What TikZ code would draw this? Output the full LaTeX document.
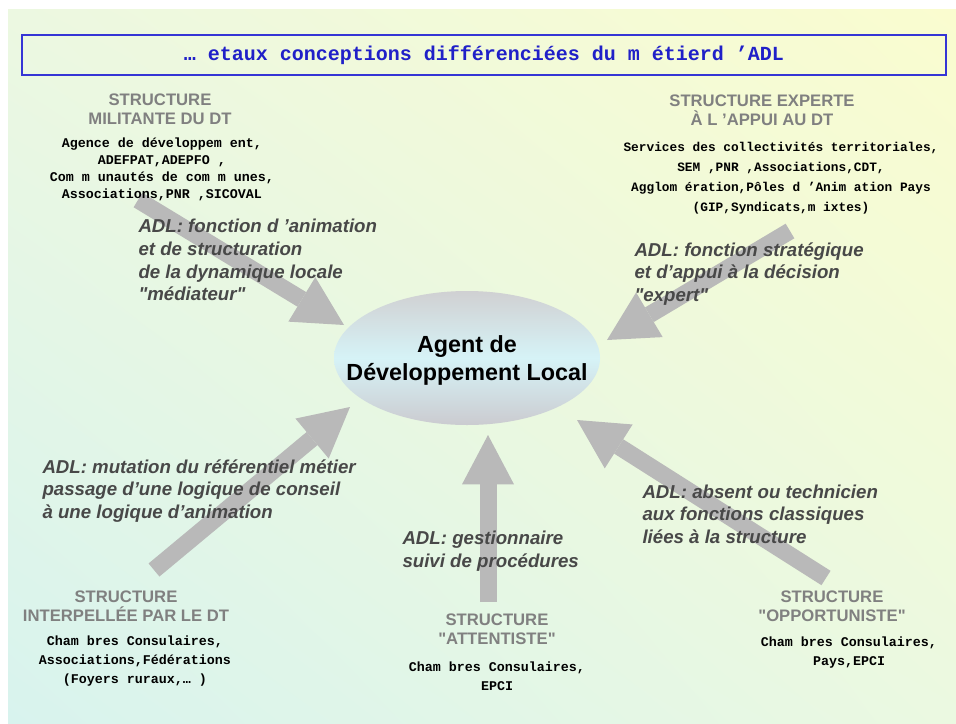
\documentclass[tikz,border=0pt]{standalone}
\usepackage{fontspec}
\setmainfont{Liberation Sans}[Ligatures=TeXOff]
\newfontfamily\courfont{Liberation Mono}
\usetikzlibrary{shapes.geometric,arrows.meta,shadings}

\definecolor{bgtl}{HTML}{ECF8E1}
\definecolor{bgtr}{HTML}{FAFCCF}
\definecolor{bgbl}{HTML}{D8F3EE}
\definecolor{bgbr}{HTML}{EBF9E1}
\definecolor{titleblue}{HTML}{2020C8}
\definecolor{boxblue}{HTML}{3535D5}
\definecolor{headgray}{HTML}{808080}
\definecolor{adlgray}{HTML}{484848}
\definecolor{arrowgray}{HTML}{B9B9B9}
\definecolor{ellgray}{HTML}{D0D0D2}
\definecolor{ellgrayb}{HTML}{CBCBD0}
\definecolor{ellcyan}{HTML}{D6F3F7}

\tikzset{every picture/.style={line width=0.75pt}}
\tikzset{
  heading/.style={text=headgray, font=\bfseries\fontsize{12.5}{14.5}\selectfont, align=center, inner sep=0pt},
  members/.style={font=\courfont\bfseries\fontsize{10}{14}\selectfont, align=center, inner sep=0pt},
  role/.style={text=adlgray, font=\bfseries\itshape\fontsize{14}{17}\selectfont, align=left, anchor=west, inner sep=0pt},
  push/.style={draw=arrowgray, line width=12.75pt, -{Triangle[length=37pt,width=39pt,line width=0pt]}},
}

\begin{document}
\begin{tikzpicture}[x=0.75pt,y=0.75pt,yscale=-1]
\useasboundingbox (0,0) rectangle (956,724);

%Shape: Background
\shade[upper left=bgtl, upper right=bgtr, lower left=bgbl, lower right=bgbr] (8,10) rectangle (956,724);

%Shape: Title box
\node[draw=boxblue, line width=1.5pt, minimum width=693pt, minimum height=30pt, inner sep=0pt,
  text=titleblue, font=\courfont\bfseries\fontsize{15}{18}\selectfont] (title) at (484,55)
  {… etaux conceptions différenciées du m étierd ’ADL};

% Arrow ends
\coordinate (milTail) at (138,200);
\coordinate (milTip) at (344,325);
\coordinate (expTail) at (790,231);
\coordinate (expTip) at (607,340);
\coordinate (intTail) at (154,570);
\coordinate (intTip) at (350,407);
\coordinate (attTail) at (488,602);
\coordinate (attTip) at (488,435);
\coordinate (oppTail) at (826,578);
\coordinate (oppTip) at (577,420);

%Shape: Arrows
\draw[push] (milTail) -- (milTip);
\draw[push] (expTail) -- (expTip);
\draw[push] (intTail) -- (intTip);
\draw[push] (attTail) -- (attTip);
\draw[push] (oppTail) -- (oppTip);

%Shape: Ellipse
\node[ellipse, minimum width=199.5pt, minimum height=100.5pt, inner sep=0pt,
  top color=ellgray, bottom color=ellgrayb, middle color=ellcyan] (adl) at (467,358) {};
% Text Node
\node[font=\bfseries\fontsize{17.5}{21}\selectfont, align=center, inner sep=0pt] (adltext) at (467,360)
  {Agent de\\Développement Local};

% Text Node
\node[heading] (milHead) at (160,109.5) {STRUCTURE\\MILITANTE DU DT};
% Text Node
\node[members, font=\courfont\bfseries\fontsize{10}{12.75}\selectfont] (milList) at (162,169.5)
  {Agence de développem ent,\\ADEFPAT,ADEPFO ,\\Com m unautés de com m unes,\\Associations,PNR ,SICOVAL};

% Text Node
\node[heading] (expHead) at (762,110) {STRUCTURE EXPERTE\\À L ’APPUI AU DT};
% Text Node
\node[members, font=\courfont\bfseries\fontsize{9.6}{15}\selectfont] (expList) at (781,178)
  {Services des collectivités territoriales,\\SEM ,PNR ,Associations,CDT,\\Agglom ération,Pôles d ’Anim ation Pays\\(GIP,Syndicats,m ixtes)};

% Text Node
\node[role] (milRole) at (138,260)
  {ADL: fonction d ’animation\\et de structuration\\de la dynamique locale\\"médiateur"};
% Text Node
\node[role] (expRole) at (634,274)
  {ADL: fonction stratégique\\et d’appui à la décision\\"expert"};
% Text Node
\node[role] (intRole) at (42,491)
  {ADL: mutation du référentiel métier\\passage d’une logique de conseil\\à une logique d’animation};
% Text Node
\node[role] (attRole) at (402,551)
  {ADL: gestionnaire\\suivi de procédures};
% Text Node
\node[role] (oppRole) at (642,514)
  {ADL: absent ou technicien\\aux fonctions classiques\\liées à la structure};

% Text Node
\node[heading] (intHead) at (126,606.5) {STRUCTURE\\INTERPELLÉE PAR LE DT};
% Text Node
\node[members] (intList) at (135,661)
  {Cham bres Consulaires,\\Associations,Fédérations\\(Foyers ruraux,… )};

% Text Node
\node[heading] (attHead) at (497,629.5) {STRUCTURE\\"ATTENTISTE"};
% Text Node
\node[members] (attList) at (497,676.5) {Cham bres Consulaires,\\EPCI};

% Text Node
\node[heading] (oppHead) at (832,606.5) {STRUCTURE\\"OPPORTUNISTE"};
% Text Node
\node[members] (oppList) at (849,652.5) {Cham bres Consulaires,\\Pays,EPCI};

\end{tikzpicture}
\end{document}
